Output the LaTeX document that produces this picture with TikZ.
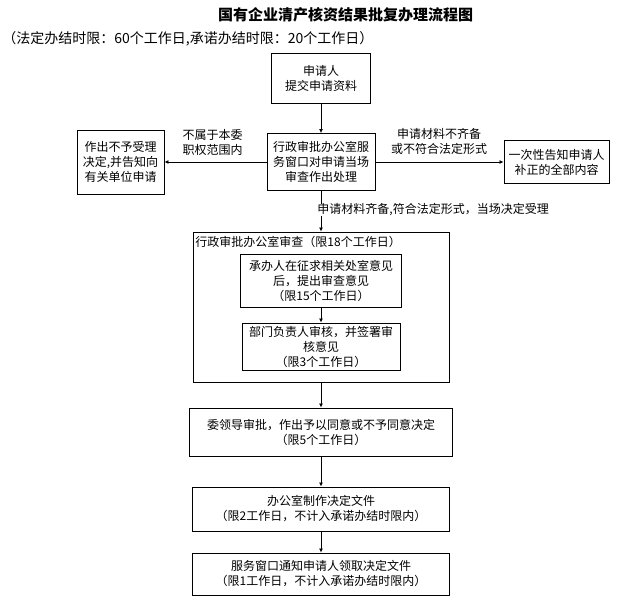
\documentclass[tikz,border=0pt]{standalone}
\usepackage{fontspec}
\setmainfont{Noto Sans CJK SC}
\usepackage{tikz}
\usetikzlibrary{arrows.meta}
\tikzset{>={Latex[width=4pt,length=4pt]}}
\tikzset{
  box/.style={draw, inner sep=0pt, align=center, font=\fontsize{12pt}{15pt}\selectfont},
  lbl/.style={inner sep=0pt, align=center, font=\fontsize{12pt}{15pt}\selectfont},
}

\begin{document}
\begin{tikzpicture}[x=1pt, y=-1pt, line width=0.9pt]

  \useasboundingbox (0,0) rectangle (617,607);

  \newcommand\C{321};

  \node[lbl, font=\fontsize{15pt}{18pt}\selectfont\bfseries] (title) at (345.5,15) {国有企业清产核资结果批复办理流程图};
  \node[lbl, anchor=west, font=\fontsize{14pt}{17pt}\selectfont] (limits) at (2,39) {（法定办结时限：60个工作日,承诺办结时限：20个工作日）};

  \node[box, minimum width=99, minimum height=50] (apply) at (\C,78) {申请人\\提交申请资料};
  \node[box, minimum width=108, minimum height=57] (window) at (\C,162) {行政审批办公室服\\务窗口对申请当场\\审查作出处理};
  \node[box, minimum width=87, minimum height=64] (refuse) at (120.5,162) {作出不予受理\\决定,并告知向\\有关单位申请};
  \node[box, minimum width=105, minimum height=43] (inform) at (556.5,162) {一次性告知申请人\\补正的全部内容};

  \node[box, minimum width=256, minimum height=150] (review) at (\C,307) {};
  \node[lbl, anchor=west] (reviewtitle) at (195,242) {行政审批办公室审查（限18个工作日）};
  \node[box, minimum width=161, minimum height=53] (opinion) at (\C,280.5) {承办人在征求相关处室意见\\后，提出审查意见\\（限15个工作日）};
  \node[box, minimum width=158, minimum height=47] (check) at (\C,346.5) {部门负责人审核，并签署审\\核意见\\（限3个工作日）};

  \node[box, minimum width=263, minimum height=48] (leader) at (\C,432) {委领导审批，作出予以同意或不予同意决定\\（限5个工作日）};
  \node[box, minimum width=257, minimum height=44] (office) at (\C,509) {办公室制作决定文件\\（限2工作日，不计入承诺办结时限内）};
  \node[box, minimum width=257, minimum height=42] (notice) at (\C,574) {服务窗口通知申请人领取决定文件\\（限1工作日，不计入承诺办结时限内）};

  \draw[->] (apply) -- (window); %% apply->window
  \draw[->] (window) -- (refuse); %% window->refuse
  \draw[->] (window) -- (inform); %% window->inform
  \draw[->] (window) -- (review); %% window->review
  \draw[->] (opinion) -- (check);
  \draw[->] (review) -- (leader);
  \draw[->] (leader) -- (office);
  \draw[->] (office) -- (notice);

  \node[lbl] (outscope) at (212.5,142.5) {不属于本委\\职权范围内};
  \node[lbl] (incomplete) at (439,141.5) {申请材料不齐备\\或不符合法定形式};
  \node[lbl, anchor=west, fill=white] (accepted) at (317,210) {申请材料齐备,符合法定形式，当场决定受理};

\end{tikzpicture}
\end{document}
